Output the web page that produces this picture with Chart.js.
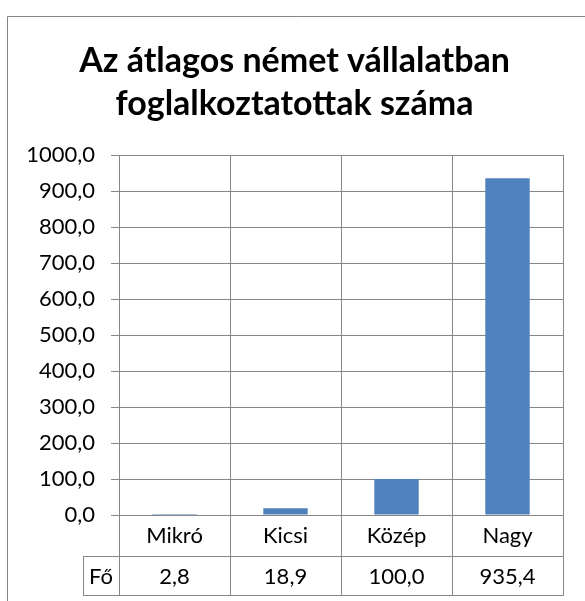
<!DOCTYPE html>
<html lang="hu">
<head>
    <meta charset="UTF-8">
    <title>Foglalkoztatottak</title>
    <style>
        html, body { margin: 0; padding: 0; background: #fff; }
        #wrap { width: 585px; height: 601px; }
    </style>
</head>
<body>
<div id="wrap">
    <canvas id="myChart" width="585" height="601"></canvas>
</div>

<script src="https://cdn.jsdelivr.net/npm/chart.js"></script>
<script>
    // adatok
    const categories = ['Mikró', 'Kicsi', 'Közép', 'Nagy'];
    const seriesName = 'Fő';
    const values = [2.8, 18.9, 100.0, 935.4];
    const titleLines = ['Az átlagos német vállalatban', 'foglalkoztatottak száma'];

    const fmt = v => v.toFixed(1).replace('.', ',');
    const gridColor = '#868686';
    const fontFamily = "Lato, 'Open Sans', sans-serif";

    // keret + adattabla a grafikon alatt
    const tablePlugin = {
        id: 'dataTable',
        afterDraw(chart) {
            const ctx = chart.ctx;
            const x = chart.scales.x;
            const area = chart.chartArea;
            const rowTop = area.bottom + 41;
            const rowBottom = rowTop + 39;
            const step = x.getPixelForValue(1) - x.getPixelForValue(0);
            const left = area.left - 36;

            ctx.save();
            ctx.strokeStyle = gridColor;
            ctx.lineWidth = 1;
            ctx.beginPath();
            // keret
            ctx.moveTo(7.5, 601);
            ctx.lineTo(7.5, 16.5);
            ctx.lineTo(585, 16.5);
            // oszlophatarok
            for (let i = 0; i <= categories.length; i++) {
                const px = Math.round(x.getPixelForValue(i) - step / 2) + 0.5;
                ctx.moveTo(px, area.bottom);
                ctx.lineTo(px, rowBottom);
            }
            ctx.moveTo(left + 0.5, rowTop);
            ctx.lineTo(left + 0.5, rowBottom);
            ctx.moveTo(left, rowTop + 0.5);
            ctx.lineTo(area.right + 1, rowTop + 0.5);
            ctx.moveTo(left, rowBottom + 0.5);
            ctx.lineTo(area.right + 1, rowBottom + 0.5);
            ctx.stroke();

            ctx.fillStyle = '#000';
            ctx.font = '22px ' + fontFamily;
            ctx.textAlign = 'center';
            ctx.textBaseline = 'middle';
            const ty = (rowTop + rowBottom) / 2 + 1;
            ctx.fillText(seriesName, (left + area.left) / 2, ty);
            values.forEach((v, i) => {
                ctx.fillText(fmt(v), x.getPixelForValue(i), ty);
            });
            ctx.restore();
        }
    };

    const ctx = document.getElementById('myChart');

    new Chart(ctx, {
        type: 'bar',
        data: {
            labels: categories,
            datasets: [
                {
                    label: seriesName,
                    data: values,
                    borderWidth: 0,
                    backgroundColor: '#4F81BD',
                    barPercentage: 0.4,
                    categoryPercentage: 1
                }
            ]
        },
        options: {
            responsive: false,
            animation: false,
            layout: {
                padding: { left: 26, right: 22, top: 0, bottom: 0 }
            },
            scales: {
                x: {
                    grid: {
                        color: gridColor,
                        drawTicks: false,
                        offset: true
                    },
                    border: { color: gridColor },
                    ticks: {
                        color: '#000',
                        padding: 8,
                        font: { family: fontFamily, size: 22 }
                    },
                    afterFit(scale) { scale.height = 86; }
                },
                y: {
                    min: 0,
                    max: 1000,
                    grid: {
                        color: gridColor,
                        tickLength: 8
                    },
                    border: { color: gridColor },
                    ticks: {
                        stepSize: 100,
                        color: '#000',
                        padding: 16,
                        font: { family: fontFamily, size: 22 },
                        callback: v => fmt(v)
                    },
                    afterFit(scale) { scale.width = 93; }
                }
            },
            plugins: {
                legend: { display: false },
                tooltip: { enabled: false },
                title: {
                    display: true,
                    text: titleLines,
                    color: '#000',
                    padding: { top: 40, bottom: 29 },
                    font: {
                        family: fontFamily,
                        weight: 'bold',
                        size: 34,
                        lineHeight: 1.265
                    }
                }
            }
        },
        plugins: [tablePlugin]
    });
</script>
</body>
</html>
